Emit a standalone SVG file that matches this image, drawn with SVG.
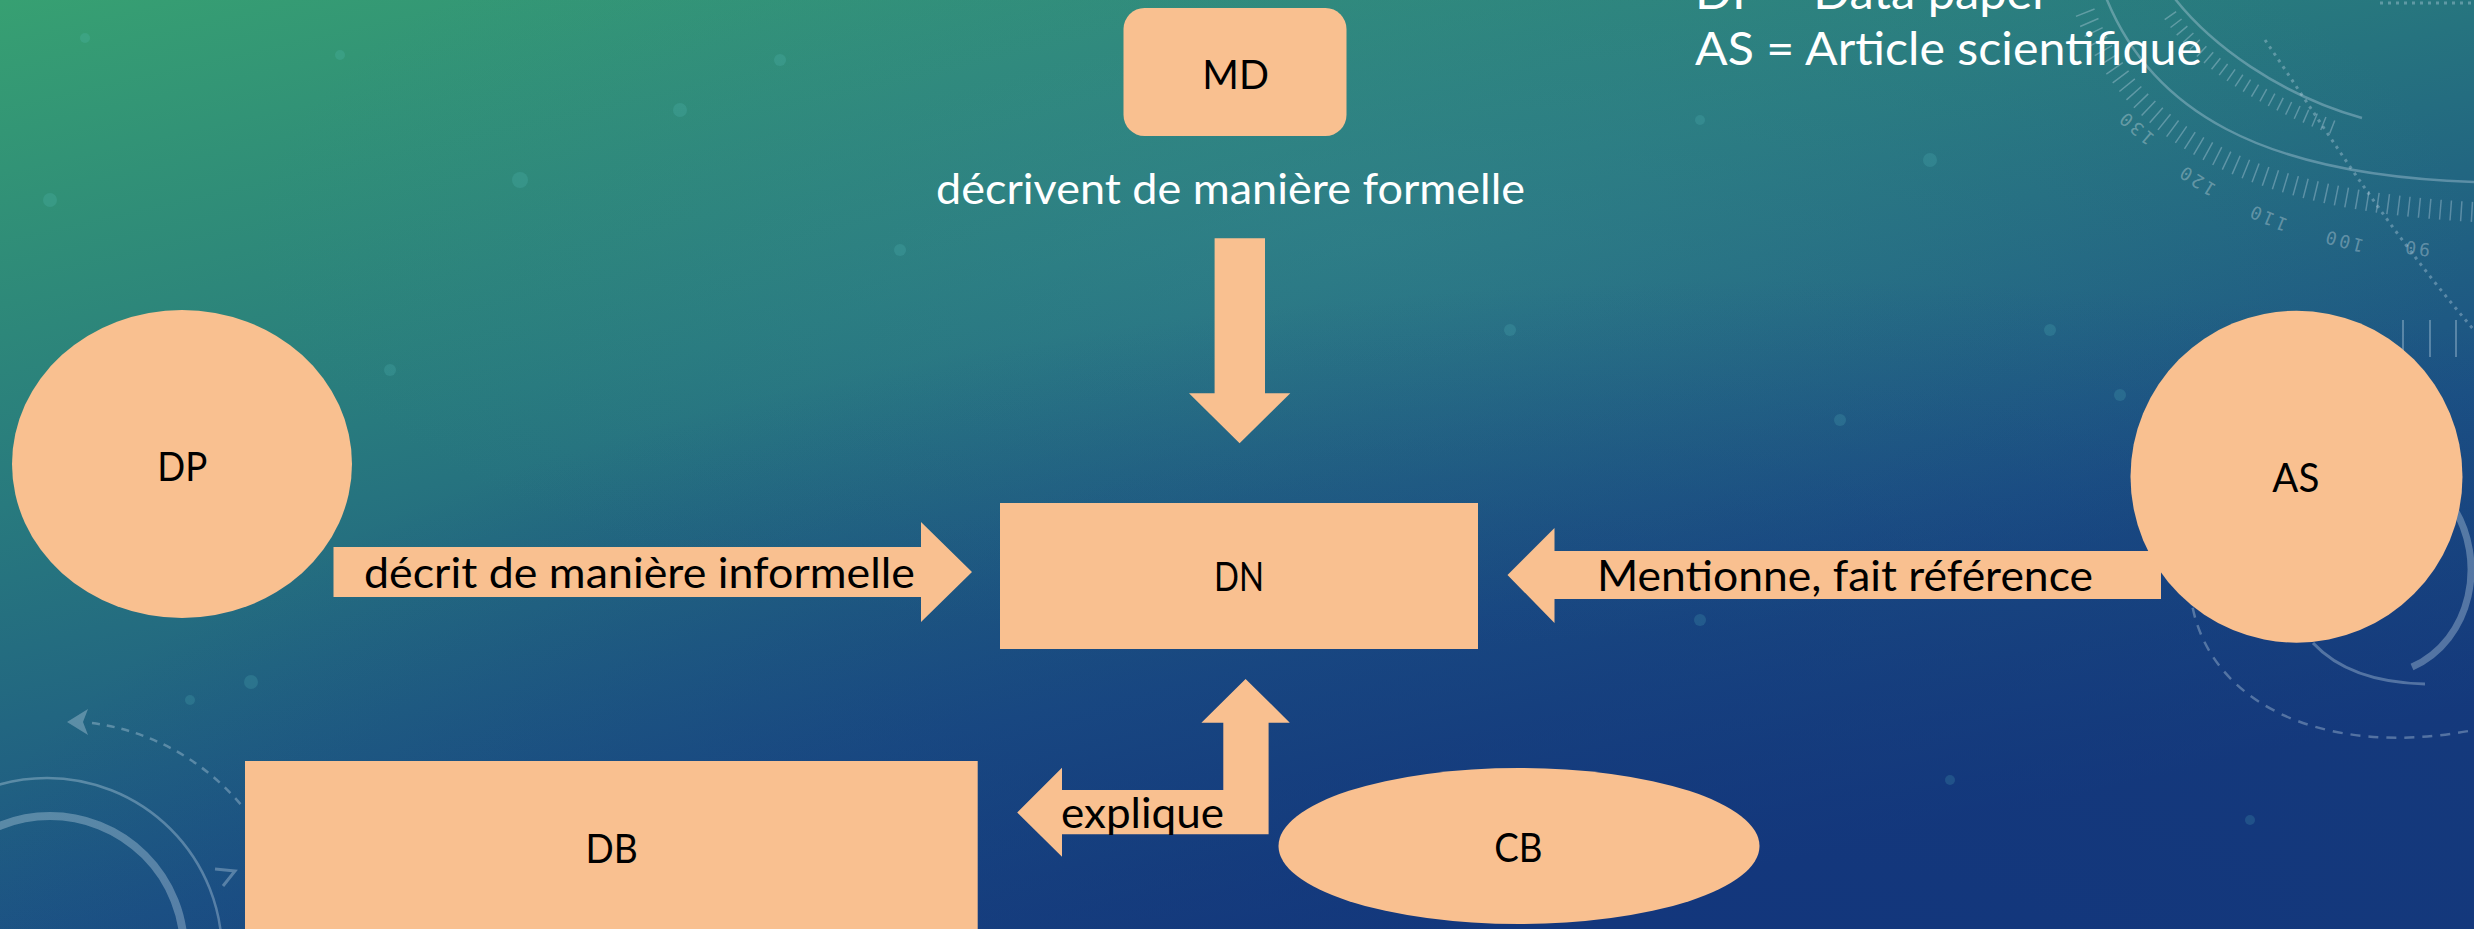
<svg xmlns="http://www.w3.org/2000/svg" width="2474" height="929" viewBox="0 0 2474 929">
  <defs>
    <linearGradient id="bgGrad" x1="0" y1="0" x2="0.6" y2="1">
      <stop offset="0" stop-color="#37a072"/>
      <stop offset="0.4" stop-color="#287a7e"/>
      <stop offset="0.75" stop-color="#1c5284"/>
      <stop offset="1" stop-color="#163c7c"/>
    </linearGradient>
    <radialGradient id="bgShade" cx="0.72" cy="1.05" r="0.75">
      <stop offset="0" stop-color="#12357c" stop-opacity="0.85"/>
      <stop offset="1" stop-color="#12357c" stop-opacity="0"/>
    </radialGradient>
    <radialGradient id="bgGlow" cx="0.55" cy="0.25" r="0.45">
      <stop offset="0" stop-color="#3a8a96" stop-opacity="0.35"/>
      <stop offset="1" stop-color="#3a8a96" stop-opacity="0"/>
    </radialGradient>
    <style>
      .shape { fill: #f9c090; }
      .deco { fill: none; stroke: #c8dcec; stroke-opacity: 0.35; }
      .dot { fill: #5fc8c8; fill-opacity: 0.18; }
      .num { font-family: "DejaVu Sans Mono", monospace; font-size: 18px; fill: #ffffff; fill-opacity: 0.3; letter-spacing: 3px; text-anchor: middle; }
      .node-text { font-family: Lato, "Liberation Sans", sans-serif; font-size: 41px; fill: #000000; text-anchor: middle; }
      .arrow-text { font-family: Lato, "Liberation Sans", sans-serif; font-size: 43px; fill: #000000; }
      .white-text { font-family: Lato, "Liberation Sans", sans-serif; font-size: 43px; fill: #ffffff; }
      .legend-text { font-family: Lato, "Liberation Sans", sans-serif; font-size: 46px; fill: #ffffff; }
    </style>
  </defs>

  <g id="background">
    <rect x="0" y="0" width="2474" height="929" fill="url(#bgGrad)"/>
    <rect x="0" y="0" width="2474" height="929" fill="url(#bgGlow)"/>
    <rect x="0" y="0" width="2474" height="929" fill="url(#bgShade)"/>
    <!-- bokeh dots -->
    <circle class="dot" cx="85" cy="38" r="5"/>
    <circle class="dot" cx="50" cy="200" r="7"/>
    <circle class="dot" cx="340" cy="55" r="5"/>
    <circle class="dot" cx="520" cy="180" r="8"/>
    <circle class="dot" cx="680" cy="110" r="7"/>
    <circle class="dot" cx="390" cy="370" r="6"/>
    <circle class="dot" cx="780" cy="60" r="6"/>
    <circle class="dot" cx="145" cy="360" r="5"/>
    <circle class="dot" cx="900" cy="250" r="6"/>
    <circle class="dot" cx="1700" cy="120" r="5"/>
    <circle class="dot" cx="1930" cy="160" r="7"/>
    <circle class="dot" cx="2050" cy="330" r="6"/>
    <circle class="dot" cx="1840" cy="420" r="6"/>
    <circle class="dot" cx="1510" cy="330" r="6"/>
    <circle class="dot" cx="1700" cy="620" r="6"/>
    <circle class="dot" cx="251" cy="682" r="7"/>
    <circle class="dot" cx="190" cy="700" r="5"/>
    <circle class="dot" cx="1950" cy="780" r="5"/>
    <circle class="dot" cx="2120" cy="395" r="6"/>
    <circle class="dot" cx="2250" cy="820" r="5"/>
    <!-- top-right dial -->
    <path class="deco" stroke-width="2.5" d="M2105,-5 C2150,110 2260,175 2474,182"/>
    <path class="deco" stroke-width="2.5" d="M2172,-5 C2210,45 2280,95 2362,118"/>
    <path class="deco" stroke-width="20" stroke-dasharray="1.5 9" stroke-opacity="0.25" d="M2085,12 C2135,140 2255,200 2474,212"/>
    <path class="deco" stroke-width="14" stroke-dasharray="1.5 8" stroke-opacity="0.25" d="M2170,15 C2205,65 2260,100 2340,130"/>
    <path class="deco" stroke-width="3" stroke-dasharray="3 5" d="M2265,40 C2320,120 2380,220 2474,330"/>
    <path class="deco" stroke-width="3" stroke-dasharray="3 5" d="M2380,3 L2474,3"/>
    <path class="deco" stroke-width="2" d="M2403,320 L2403,357 M2430,320 L2430,357 M2456,320 L2456,357"/>
    <text class="num" transform="translate(2140,123) rotate(221)">130</text>
    <text class="num" transform="translate(2200,175) rotate(212)">120</text>
    <text class="num" transform="translate(2270,212) rotate(203)">110</text>
    <text class="num" transform="translate(2345,235) rotate(195)">100</text>
    <text class="num" transform="translate(2417,242) rotate(187)">90</text>
    <!-- right-side rings -->
    <path class="deco" stroke-width="7" d="M2452,505 C2488,560 2472,640 2412,667"/>
    <path class="deco" stroke-width="3" d="M2313,643 C2340,672 2380,683 2425,684"/>
    <path class="deco" stroke-width="2.5" stroke-dasharray="10 8" d="M2190,590 C2200,700 2320,760 2474,730"/>
    <!-- bottom-left rings -->
    <circle class="deco" stroke-width="2.5" cx="47" cy="953" r="175"/>
    <circle class="deco" stroke-width="8" cx="50" cy="950" r="134"/>
    <path class="deco" stroke-width="2.5" stroke-dasharray="8 7" d="M92,723 A235,235 0 0 1 242,806"/>
    <polygon points="67,722 88,709 83,722 88,735" fill="#c8dcec" fill-opacity="0.35"/>
    <polyline class="deco" stroke-width="3" points="215,869 235,871 223,886"/>
  </g>

  <g id="legend">
    <text class="legend-text" x="1695" y="9" textLength="355" lengthAdjust="spacingAndGlyphs">DP = Data paper</text>
    <text class="legend-text" x="1695" y="65" textLength="507" lengthAdjust="spacingAndGlyphs">AS = Article scientifique</text>
  </g>

  <g id="connectors">
    <g id="edge-MD-DN">
      <text class="white-text" x="936" y="204" textLength="589" lengthAdjust="spacingAndGlyphs">décrivent de manière formelle</text>
      <polygon class="shape" points="1214.6,238.3 1265,238.3 1265,393.3 1290.3,393.3 1239.6,443.3 1189,393.3 1214.6,393.3"/>
    </g>
    <g id="edge-DP-DN">
      <polygon class="shape" points="333.5,547 921,547 921,522 972,572 921,622 921,597 333.5,597"/>
      <text class="arrow-text" x="364" y="588" textLength="551" lengthAdjust="spacingAndGlyphs">décrit de manière informelle</text>
    </g>
    <g id="edge-AS-DN">
      <polygon class="shape" points="2161,551 1554.5,551 1554.5,528 1507.5,575 1554.5,623 1554.5,599 2161,599"/>
      <text class="arrow-text" x="1597" y="591" textLength="496" lengthAdjust="spacingAndGlyphs">Mentionne, fait référence</text>
    </g>
    <g id="edge-CB-DN-DB">
      <polygon class="shape" points="1245.6,679 1289.8,722.7 1268.6,722.7 1268.6,834.3 1062,834.3 1062,856.7 1017.2,812.4 1062,767.7 1062,790 1223.3,790 1223.3,722.7 1201.4,722.7"/>
      <text class="arrow-text" x="1061" y="828" textLength="163" lengthAdjust="spacingAndGlyphs">explique</text>
    </g>
  </g>

  <g id="node-MD">
    <rect class="shape" x="1123.5" y="8" width="223" height="128" rx="21" ry="21"/>
    <text class="node-text" x="1235.6" y="89.3" textLength="66.6" lengthAdjust="spacingAndGlyphs">MD</text>
  </g>
  <g id="node-DN">
    <rect class="shape" x="1000" y="503" width="478" height="146"/>
    <text class="node-text" x="1239" y="591" textLength="50" lengthAdjust="spacingAndGlyphs">DN</text>
  </g>
  <g id="node-DP">
    <ellipse class="shape" cx="182" cy="464" rx="170" ry="154"/>
    <text class="node-text" x="182.3" y="480.7" textLength="50" lengthAdjust="spacingAndGlyphs">DP</text>
  </g>
  <g id="node-AS">
    <ellipse class="shape" cx="2296.5" cy="476.7" rx="166" ry="166"/>
    <text class="node-text" x="2295.8" y="491.7" textLength="47" lengthAdjust="spacingAndGlyphs">AS</text>
  </g>
  <g id="node-CB">
    <ellipse class="shape" cx="1519" cy="846" rx="240.5" ry="78"/>
    <text class="node-text" x="1518.3" y="861.7" textLength="48.2" lengthAdjust="spacingAndGlyphs">CB</text>
  </g>
  <g id="node-DB">
    <rect class="shape" x="245" y="761" width="732.7" height="180"/>
    <text class="node-text" x="611.6" y="863.3" textLength="52.3" lengthAdjust="spacingAndGlyphs">DB</text>
  </g>
</svg>
